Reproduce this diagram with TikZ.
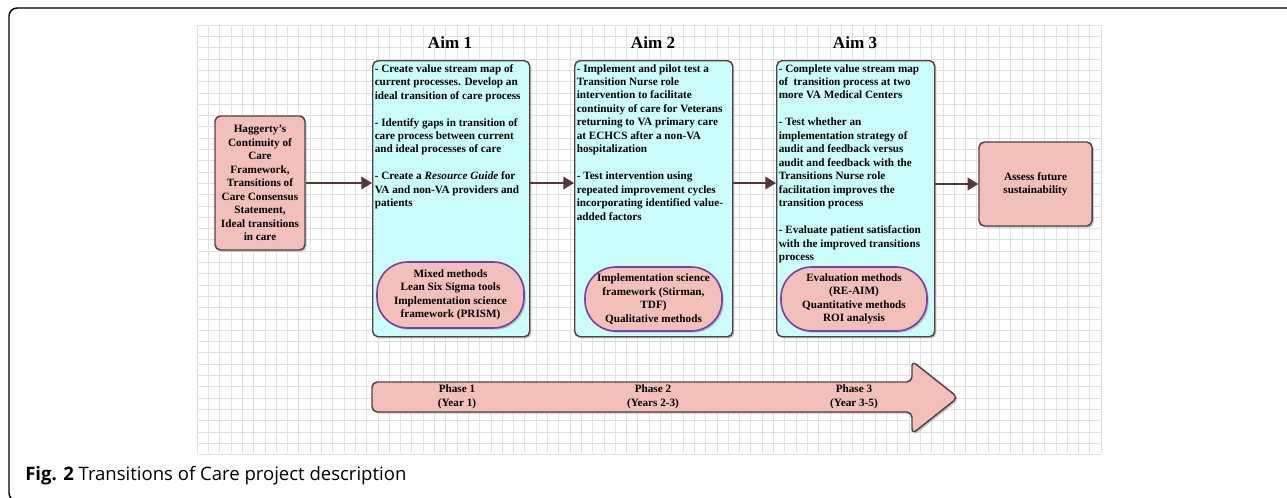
\documentclass[tikz,border=0pt]{standalone}
\usepackage{fontspec}
\setmainfont{Liberation Serif}
\newfontfamily\capfont{Open Sans}
\usetikzlibrary{arrows.meta,shadows}
\definecolor{pinkfill}{RGB}{242,191,186}
\definecolor{cyanfill}{RGB}{204,253,253}
\definecolor{bordc}{RGB}{80,66,66}
\definecolor{arrc}{RGB}{85,55,55}
\definecolor{ovalc}{RGB}{122,62,172}
\definecolor{gridc}{RGB}{225,225,225}
\begin{document}
\begin{tikzpicture}[x=0.75pt,y=-0.75pt,
  txt/.style={font=\fontsize{8.4}{10.1}\selectfont\bfseries, inner sep=0pt},
  shad/.style={drop shadow={shadow xshift=1.3pt, shadow yshift=-1.3pt, opacity=0.35, fill=black!60}},
  pinkbox/.style={draw=bordc, line width=1.1pt, fill=pinkfill, rounded corners=4pt, shad, txt, align=center},
  cyanbox/.style={draw=bordc, line width=1.1pt, fill=cyanfill, rounded corners=4pt, shad},
  oval/.style={draw=ovalc, line width=1.2pt, fill=pinkfill, rounded corners=23pt, shad, txt, align=center},
  conn/.style={draw=arrc, line width=1.2pt, -{Triangle[length=8pt,width=9.5pt]}},
  aimtitle/.style={font=\fontsize{12.8}{15}\selectfont\bfseries, inner sep=0pt}
]
\useasboundingbox (0,0) rectangle (1287,497);
% grid
\foreach \i in {0,...,80} \draw[gridc, line width=0.45pt] (197+\i*11.3,25) -- (197+\i*11.3,453);
\foreach \j in {0,...,38} \draw[gridc, line width=0.45pt] (197,25+\j*11.3) -- (1101,25+\j*11.3);
% frame
\draw[line width=1.1pt, rounded corners=6pt] (1295,8) -- (9,8) -- (9,501) -- (40,501);
% source box
\node[pinkbox, minimum width=67.5pt, minimum height=100.5pt] (src) at (260,183)
  {Haggerty’s\\Continuity of\\Care\\Framework,\\Transitions of\\Care Consensus\\Statement,\\Ideal transitions\\in care};
% titles
\node[aimtitle] (t1) at (450,43) {Aim 1};
\node[aimtitle] (t2) at (653,43) {Aim 2};
\node[aimtitle] (t3) at (855,43) {Aim 3};
% aim boxes
\node[cyanbox, minimum width=117.75pt, minimum height=207pt, anchor=north west] (aim1) at (372,60) {};
\node[cyanbox, minimum width=118.5pt, minimum height=207pt, anchor=north west] (aim2) at (574,60) {};
\node[cyanbox, minimum width=118.5pt, minimum height=207pt, anchor=north west] (aim3) at (776,60) {};
\node[txt, anchor=north west, align=left] (aim1t) at (374.5,64) {%
- Create value stream map of\\current processes. Develop an\\ideal transition of care process\\[10.1pt]
- Identify gaps in transition of\\care process between current\\and ideal processes of care\\[10.1pt]
- Create a \textit{Resource Guide} for\\VA and non-VA providers and\\patients};
\node[txt, anchor=north west, align=left] (aim2t) at (576.5,64) {%
- Implement and pilot test a\\Transition Nurse role\\intervention to facilitate\\continuity of care for Veterans\\returning to VA primary care\\at ECHCS after a non-VA\\hospitalization\\[10.1pt]
- Test intervention using\\repeated improvement cycles\\incorporating identified value-\\added factors};
\node[txt, anchor=north west, align=left] (aim3t) at (778.5,64) {%
- Complete value stream map\\of\ \ transition process at two\\more VA Medical Centers\\[10.1pt]
- Test whether an\\implementation strategy of\\audit and feedback versus\\audit and feedback with the\\Transitions Nurse role\\facilitation improves the\\transition process\\[10.1pt]
- Evaluate patient satisfaction\\with the improved transitions\\process};
% ovals
\node[oval, minimum width=110.25pt, minimum height=49.5pt] (m1) at (450.5,295)
  {Mixed methods\\Lean Six Sigma tools\\Implementation science\\framework (PRISM)};
\node[oval, minimum width=102.75pt, minimum height=48pt] (m2) at (653.5,299)
  {Implementation science\\framework (Stirman,\\TDF)\\Qualitative methods};
\node[oval, minimum width=109.5pt, minimum height=48pt] (m3) at (854,299)
  {Evaluation methods\\(RE-AIM)\\Quantitative methods\\ROI analysis};
% assess
\node[pinkbox, minimum width=84.75pt, minimum height=63pt] (assess) at (1035.5,184) {Assess future\\sustainability};
% connectors
\draw[conn] (src.east) -- (src.east -| aim1.west);
\draw[conn] (aim1.east |- src.east) -- (aim2.west |- src.east);
\draw[conn] (aim2.east |- src.east) -- (aim3.west |- src.east);
\draw[conn] (aim3.east |- assess.west) -- (assess.west);
% phase arrow
\draw[draw=bordc, line width=1.1pt, fill=pinkfill, rounded corners=4pt, shad]
  (372,382) -- (912,382) -- (912,361) -- (958,397.5) -- (912,434) -- (912,412) -- (372,412) -- cycle;
\node[txt, align=center] (p1) at (457,397) {Phase 1\\(Year 1)};
\node[txt, align=center] (p2) at (653,397) {Phase 2\\(Years 2-3)};
\node[txt, align=center] (p3) at (854,397) {Phase 3\\(Year 3-5)};
% caption
\node[anchor=base west, inner sep=0pt, font=\capfont\fontsize{13.9}{16}\selectfont] (cap) at (25,480)
  {\textbf{Fig. 2} Transitions of Care project description};
\end{tikzpicture}
\end{document}
